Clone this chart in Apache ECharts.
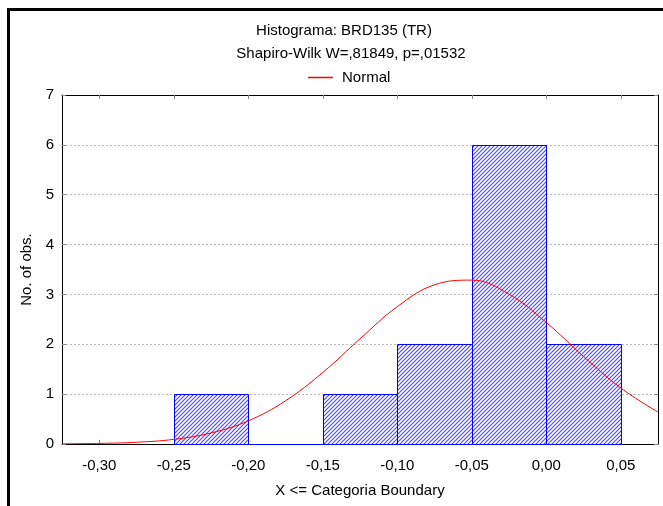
<!DOCTYPE html>
<html>
<head>
<meta charset="utf-8">
<script src="https://cdn.jsdelivr.net/npm/echarts@6/dist/echarts.min.js"></script>
<style>
  html, body { margin: 0; padding: 0; background: #fff; }
  #chart { width: 663px; height: 506px; }
</style>
</head>
<body>
<div id="chart"></div>
<script>
// Histogram bins (upper boundaries) and observed counts
const binStarts = [-0.25, -0.20, -0.15, -0.10, -0.05, 0.00];
const binEnds   = [-0.20, -0.15, -0.10, -0.05, 0.00, 0.05];
const counts    = [1, 0, 1, 2, 6, 2];

// Expected normal curve (scaled to counts), sampled along X
const curveX = [-0.325, -0.300, -0.275, -0.250, -0.225, -0.200, -0.175, -0.150, -0.125,
                -0.100, -0.075, -0.050, -0.025, 0.000, 0.025, 0.050, 0.075];
const curveY = [0.004, 0.012, 0.035, 0.093, 0.221, 0.464, 0.866, 1.434, 2.109,
                2.754, 3.193, 3.287, 3.005, 2.438, 1.757, 1.124, 0.639];

// Axis tick positions
const xTicks = [-0.30, -0.25, -0.20, -0.15, -0.10, -0.05, 0.00, 0.05];
const yTicks = [0, 1, 2, 3, 4, 5, 6, 7];

const titleText = 'Histograma: BRD135 (TR)';
const subtitleText = 'Shapiro-Wilk W=,81849, p=,01532';

// Diagonal "/" hatch tile (4px period)
function hatchPattern() {
  const c = document.createElement('canvas');
  c.width = 4; c.height = 4;
  const g = c.getContext('2d');
  g.fillStyle = '#ffffff';
  g.fillRect(0, 0, 4, 4);
  g.strokeStyle = '#4d4dff';
  g.lineWidth = 1.2;
  g.beginPath();
  g.moveTo(-1, 5); g.lineTo(5, -1);
  g.moveTo(-1, 1); g.lineTo(1, -1);
  g.moveTo(3, 5); g.lineTo(5, 3);
  g.stroke();
  return c;
}

const FONT = 'Liberation Sans, Arial, sans-serif';
const FS = 15;
const fmt = v => v.toFixed(2).replace('.', ',');

const chart = echarts.init(document.getElementById('chart'), null, { renderer: 'canvas' });

const barData = binStarts.map((s, i) => [s, binEnds[i], counts[i]]);
const curveData = curveX.map((x, i) => [x, curveY[i]]);

chart.setOption({
  animation: false,
  backgroundColor: '#ffffff',
  grid: { left: 62, right: 5, top: 95, bottom: 62, show: false },
  graphic: [
    { type: 'rect', z: 0, silent: true,
      shape: { x: 8.5, y: 9.5, width: 700, height: 600 },
      style: { fill: 'none', stroke: '#000', lineWidth: 3 } },
    { type: 'text', x: 344, y: 31, silent: true,
      style: { text: titleText, font: FS + 'px ' + FONT, fill: '#000', align: 'center', verticalAlign: 'middle' } },
    { type: 'text', x: 351, y: 54, silent: true,
      style: { text: subtitleText, font: FS + 'px ' + FONT, fill: '#000', align: 'center', verticalAlign: 'middle' } }
  ],
  legend: {
    left: 303, top: 65,
    itemWidth: 25, itemHeight: 1.5, itemGap: 10,
    textStyle: { fontFamily: FONT, fontSize: FS, color: '#000', padding: [0, 0, 0, 4] },
    data: [{ name: 'Normal', icon: 'rect', itemStyle: { color: '#ff0000' } }]
  },
  xAxis: [
    {
      type: 'value', min: -0.325, max: 0.075,
      name: 'X <= Categoria Boundary', nameLocation: 'middle', nameGap: 39,
      nameTextStyle: { fontFamily: FONT, fontSize: FS, color: '#000' },
      axisLine: { show: true, onZero: false, lineStyle: { color: '#000', width: 1 } },
      axisTick: { show: true, inside: true, length: 4, customValues: xTicks, lineStyle: { color: '#888' } },
      axisLabel: { customValues: xTicks, formatter: fmt, margin: 14,
                   fontFamily: FONT, fontSize: FS, color: '#000' },
      splitLine: { show: false }
    },
    {
      type: 'value', min: -0.325, max: 0.075, position: 'top',
      axisLine: { show: true, onZero: false, lineStyle: { color: '#000', width: 1 } },
      axisTick: { show: true, inside: true, length: 4, customValues: xTicks, lineStyle: { color: '#888' } },
      axisLabel: { show: false },
      splitLine: { show: false }
    }
  ],
  yAxis: [
    {
      type: 'value', min: 0, max: 7, interval: 1,
      name: 'No. of obs.', nameLocation: 'middle', nameGap: 26, nameRotate: 90,
      nameTextStyle: { fontFamily: FONT, fontSize: FS, color: '#000' },
      axisLine: { show: true, onZero: false, lineStyle: { color: '#000', width: 1 } },
      axisTick: { show: true, inside: true, length: 4, customValues: yTicks, lineStyle: { color: '#888' } },
      axisLabel: { customValues: yTicks, margin: 8, fontFamily: FONT, fontSize: FS, color: '#000' },
      splitLine: { show: true, lineStyle: { color: '#b8b8b8', type: [2, 2], width: 1 } }
    },
    {
      type: 'value', min: 0, max: 7, interval: 1, position: 'right',
      axisLine: { show: true, onZero: false, lineStyle: { color: '#000', width: 1 } },
      axisTick: { show: true, inside: true, length: 4, lineStyle: { color: '#888' } },
      axisLabel: { show: false },
      splitLine: { show: false }
    }
  ],
  series: [
    {
      name: 'Histogram',
      type: 'custom',
      xAxisIndex: 0, yAxisIndex: 0,
      z: 3,
      data: barData,
      encode: { x: [0, 1], y: 2 },
      renderItem: function (params, api) {
        const p0 = api.coord([api.value(0), 0]);
        const p1 = api.coord([api.value(1), api.value(2)]);
        const x = Math.round(p0[0]) + 0.5;
        const w = Math.round(p1[0]) - Math.round(p0[0]);
        const yTop = Math.round(p1[1]) + 0.5;
        const h = Math.round(p0[1]) - Math.round(p1[1]);
        return {
          type: 'rect',
          shape: { x: x, y: yTop, width: w, height: h },
          style: { fill: { image: hatchPattern(), repeat: 'repeat' }, stroke: '#0000ff', lineWidth: 1 }
        };
      }
    },
    {
      name: 'Normal',
      type: 'line',
      xAxisIndex: 0, yAxisIndex: 0,
      z: 5,
      data: curveData,
      smooth: 0.4,
      symbol: 'none',
      clip: true,
      lineStyle: { color: '#ff0000', width: 1 }
    }
  ]
});
</script>
</body>
</html>
